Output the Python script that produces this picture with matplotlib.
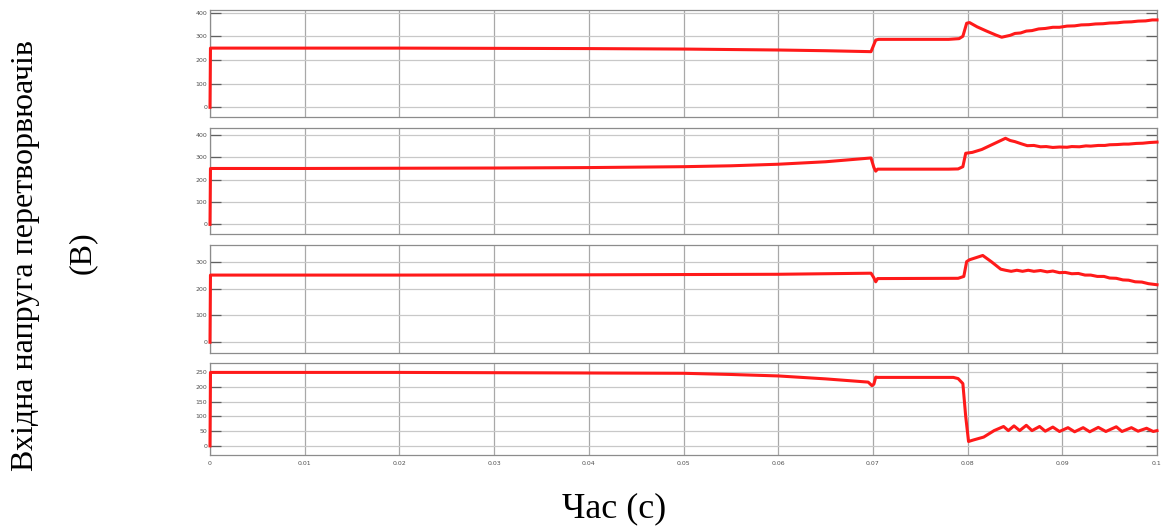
import matplotlib
matplotlib.use("Agg")
import matplotlib.pyplot as plt

# Converter input voltages, four channels (time in s, voltage in V)
t1 = [0, 0.00005, 0.01, 0.02, 0.03, 0.04, 0.05, 0.06, 0.065, 0.0698, 0.0703, 0.0706,
      0.078, 0.0791, 0.0795, 0.0799, 0.0802, 0.081, 0.082, 0.083, 0.0836, 0.0845,
      0.085, 0.0856, 0.0862, 0.0868, 0.0875, 0.0882, 0.089, 0.0897, 0.0905, 0.0913,
      0.092, 0.0928, 0.0935, 0.0943, 0.095, 0.0958, 0.0965, 0.0973, 0.098, 0.0988,
      0.0995, 0.1]
v1 = [0, 250, 250, 250, 249, 248, 246, 242, 239, 235, 284, 287,
      287, 290, 300, 355, 358, 340, 322, 305, 296, 304,
      312, 314, 322, 324, 331, 333, 338, 338, 343, 344,
      348, 349, 352, 353, 356, 357, 360, 361, 364, 365,
      369, 369]

t2 = [0, 0.00005, 0.01, 0.02, 0.03, 0.04, 0.05, 0.055, 0.06, 0.065, 0.0698, 0.0701,
      0.0703, 0.0705, 0.078, 0.079, 0.0795, 0.0798, 0.0805, 0.0815, 0.083, 0.084,
      0.0845, 0.085, 0.0857, 0.0863, 0.087, 0.0877, 0.0883, 0.089, 0.0897, 0.0905,
      0.091, 0.0918, 0.0925, 0.093, 0.0938, 0.0945, 0.095, 0.0958, 0.0965, 0.097,
      0.0978, 0.0985, 0.0992, 0.1]
v2 = [0, 250, 250, 251, 252, 254, 258, 262, 269, 280, 297, 255,
      238, 247, 247, 248, 258, 318, 322, 335, 365, 385,
      375, 370, 360, 352, 353, 347, 348, 344, 346, 345,
      348, 347, 351, 350, 353, 353, 356, 357, 359, 359,
      362, 363, 366, 368]

t3 = [0, 0.00005, 0.02, 0.04, 0.06, 0.0698, 0.0701, 0.0703, 0.0705, 0.079, 0.0796,
      0.0799, 0.0802, 0.0816, 0.0825, 0.0835, 0.084, 0.0846, 0.0852, 0.0858, 0.0864,
      0.087, 0.0877, 0.0884, 0.089, 0.0897, 0.0903, 0.091, 0.0917, 0.0924, 0.093,
      0.0937, 0.0944, 0.095, 0.0957, 0.0964, 0.097, 0.0977, 0.0984, 0.0991, 0.1]
v3 = [0, 250, 250, 251, 253, 257, 240, 225, 237, 238, 245,
      300, 307, 323, 300, 272, 268, 264, 268, 264, 268,
      264, 267, 262, 265, 259, 260, 255, 256, 250, 250,
      245, 245, 239, 238, 232, 231, 225, 224, 218, 214]

t4 = [0, 0.00005, 0.01, 0.02, 0.03, 0.04, 0.05, 0.055, 0.06, 0.065, 0.0695, 0.0699,
      0.0701, 0.0703, 0.0705, 0.0785, 0.079, 0.0795, 0.0798, 0.0801, 0.0806, 0.0817,
      0.0828, 0.0838, 0.0843, 0.0849, 0.0855, 0.0862, 0.0868, 0.0876, 0.0882, 0.089,
      0.0897, 0.0906, 0.0913, 0.0922, 0.0929, 0.0938, 0.0946, 0.0957, 0.0963, 0.0973,
      0.098, 0.0989, 0.0996, 0.1]
v4 = [0, 250, 250, 250, 249, 248, 247, 243, 238, 228, 217, 205,
      210, 234, 233, 233, 229, 212, 100, 15, 20, 30,
      52, 66, 52, 68, 52, 70, 52, 66, 50, 64,
      49, 62, 48, 62, 48, 63, 49, 65, 49, 62,
      50, 60, 49, 52]

x_ticks = [0, 0.01, 0.02, 0.03, 0.04, 0.05, 0.06, 0.07, 0.08, 0.09, 0.1]
x_ticklabels = ["0", "0.01", "0.02", "0.03", "0.04", "0.05", "0.06", "0.07", "0.08", "0.09", "0.1"]

panels = [
    (t1, v1, [0, 100, 200, 300, 400], (-41, 411)),
    (t2, v2, [0, 100, 200, 300, 400], (-43, 431)),
    (t3, v3, [0, 100, 200, 300], (-39, 362)),
    (t4, v4, [0, 50, 100, 150, 200, 250], (-31, 281)),
]

# axes boxes in figure coordinates (left, bottom, width, height)
W, H = 1162, 531
left_px, right_px = 210, 1157
boxes_px = [(10, 117), (128, 234), (245, 352.7), (363.3, 455)]

fig = plt.figure(figsize=(W / 100, H / 100), dpi=100)
fig.patch.set_facecolor("white")

for i, ((t, v, yt, ylim), (top, bot)) in enumerate(zip(panels, boxes_px)):
    ax = fig.add_axes([left_px / W, 1 - bot / H, (right_px - left_px) / W, (bot - top) / H])
    ax.plot(t, v, color="#ff1a1a", lw=2.2, solid_joinstyle="round",
            clip_on=False, zorder=5)
    ax.set_xlim(0, 0.1)
    ax.set_ylim(*ylim)
    ax.set_yticks(yt)
    ax.set_xticks(x_ticks)
    ax.grid(True, axis="y", color="#c8c8c8", lw=0.9)
    ax.grid(True, axis="x", color="#a8a8a8", lw=0.9)
    ax.set_axisbelow(True)
    ax.tick_params(axis="y", direction="in", length=8, width=0.9, color="#606060",
                   labelsize=4.5, labelcolor="#505050", right=True, pad=2)
    ax.tick_params(axis="x", direction="in", length=0, labelsize=4.5,
                   labelcolor="#505050", pad=4)
    for s in ax.spines.values():
        s.set_color("#8c8c8c")
        s.set_linewidth(0.9)
    if i == 3:
        ax.set_xticklabels(x_ticklabels)
    else:
        ax.set_xticklabels([])

serif = ["Liberation Serif", "DejaVu Serif"]
fig.text(26 / W, 1 - 256 / H, "Вхідна напруга перетворвюачів", rotation=90,
         ha="center", va="center", fontsize=23, family=serif)
fig.text(82 / W, 1 - 253 / H, "(В)", rotation=90,
         ha="center", va="center", fontsize=23, family=serif)
fig.text(614 / W, 1 - 509 / H, "Час (с)", ha="center", va="center",
         fontsize=26, family=serif)

fig.savefig("out.png", dpi=100)
